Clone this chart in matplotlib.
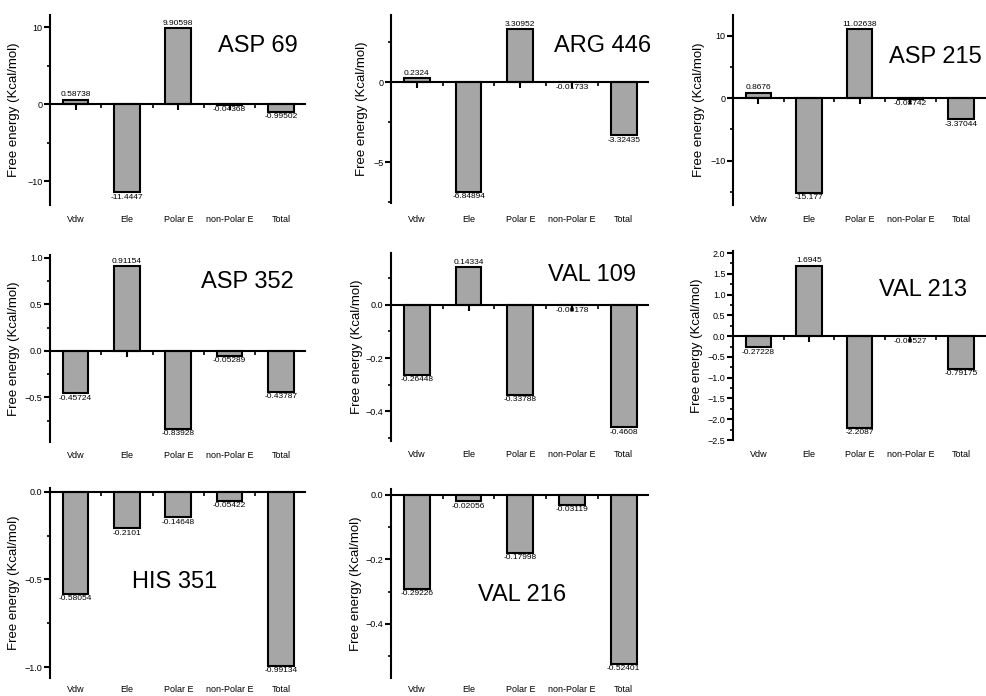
import matplotlib
matplotlib.use("Agg")
import matplotlib.pyplot as plt
from matplotlib.ticker import MultipleLocator
import numpy as np

plt.rcParams['font.family'] = ['Liberation Sans', 'DejaVu Sans']

categories = ["Vdw", "Ele", "Polar E", "non-Polar E", "Total"]

residues = ["ASP 69", "ARG 446", "ASP 215", "ASP 352", "VAL 109", "VAL 213", "HIS 351", "VAL 216"]

asp69 = [0.58738, -11.4447, 9.90598, -0.04368, -0.99502]
arg446 = [0.2324, -6.84894, 3.30952, -0.01733, -3.32435]
asp215 = [0.8676, -15.177, 11.02638, -0.08742, -3.37044]
asp352 = [-0.45724, 0.91154, -0.83928, -0.05289, -0.43787]
val109 = [-0.26448, 0.14334, -0.33788, -0.00178, -0.4608]
val213 = [-0.27228, 1.6945, -2.2087, -0.00527, -0.79175]
his351 = [-0.58054, -0.2101, -0.14648, -0.05422, -0.99134]
val216 = [-0.29226, -0.02056, -0.17998, -0.03119, -0.52401]

value_labels = [
    ["0.58738", "-11.4447", "9.90598", "-0.04368", "-0.99502"],
    ["0.2324", "-6.84894", "3.30952", "-0.01733", "-3.32435"],
    ["0.8676", "-15.177", "11.02638", "-0.08742", "-3.37044"],
    ["-0.45724", "0.91154", "-0.83928", "-0.05289", "-0.43787"],
    ["-0.26448", "0.14334", "-0.33788", "-0.00178", "-0.4608"],
    ["-0.27228", "1.6945", "-2.2087", "-0.00527", "-0.79175"],
    ["-0.58054", "-0.2101", "-0.14648", "-0.05422", "-0.99134"],
    ["-0.29226", "-0.02056", "-0.17998", "-0.03119", "-0.52401"],
]

series = [asp69, arg446, asp215, asp352, val109, val213, his351, val216]

# layout (pixel boxes: left, top, right, bottom)
W, H = 987, 696
boxes = [
    (50, 15, 305, 205), (391, 15, 648, 203), (733, 15, 985, 205),
    (50, 255, 305, 442), (391, 253, 648, 441), (733, 251, 985, 440),
    (50, 488, 305, 678), (391, 489, 648, 678),
]
ylims = [(-13.1, 11.6), (-7.56, 4.19), (-17.1, 13.3), (-0.98, 1.03),
         (-0.513, 0.196), (-2.5, 2.05), (-1.06, 0.02), (-0.568, 0.018)]
majors = [10, 5, 10, 0.5, 0.2, 0.5, 0.5, 0.2]
minors = [5, 2.5, 5, 0.25, 0.1, 0.25, 0.25, 0.1]
ylab_off = [30, 23, 28, 30, 28, 30, 30, 29]
cat_off = [7.5, 8.5, 7.5, 6.5, 6.5, 7, 5, 5]
title_pos = [(258, 46), (603, 46), (935, 57), (247, 282), (592, 275),
             (923, 290), (175, 582), (522, 595)]

fig = plt.figure(figsize=(W / 100, H / 100), dpi=100)
fig.patch.set_facecolor('white')

x = np.arange(len(categories))
for k, vals in enumerate(series):
    l, t, r, b = boxes[k]
    ax = fig.add_axes([l / W, 1 - b / H, (r - l) / W, (b - t) / H])
    ax.bar(x, vals, width=0.5, color='#a6a6a6', edgecolor='black', linewidth=1.5, zorder=2)
    ax.set_xlim(-0.5, 4.47)
    ax.set_ylim(*ylims[k])
    ax.spines['top'].set_visible(False)
    ax.spines['right'].set_visible(False)
    ax.spines['left'].set_linewidth(1.5)
    ax.spines['bottom'].set_linewidth(1.5)
    ax.spines['bottom'].set_position(('data', 0))
    ax.spines['bottom'].set_zorder(3)
    ax.set_xticks(x)
    ax.set_xticks(x[:-1] + 0.5, minor=True)
    ax.tick_params(axis='x', which='major', direction='out', length=4, width=1.5,
                   labelbottom=False)
    ax.tick_params(axis='x', which='minor', direction='out', length=3, width=1.2)
    ax.yaxis.set_major_locator(MultipleLocator(majors[k]))
    ax.yaxis.set_minor_locator(MultipleLocator(minors[k]))
    ax.tick_params(axis='y', which='major', direction='out', length=4, width=1.5,
                   labelsize=6.5, pad=1.5)
    ax.tick_params(axis='y', which='minor', direction='out', length=2.5, width=1.2)
    ax.set_ylabel("Free energy (Kcal/mol)", fontsize=9.5)
    ax.yaxis.set_label_coords(-ylab_off[k] / (r - l), 0.5)
    for i, lbl in enumerate(categories):
        ax.annotate(lbl, xy=(i, 0), xycoords=('data', 'axes fraction'),
                    xytext=(0, -cat_off[k]), textcoords='offset points',
                    ha='center', va='top', fontsize=6.5)
    for i, v in enumerate(vals):
        if v >= 0:
            ax.annotate(value_labels[k][i], xy=(i, v), xytext=(0, 1),
                        textcoords='offset points', ha='center', va='bottom', fontsize=6)
        else:
            ax.annotate(value_labels[k][i], xy=(i, v), xytext=(0, -1),
                        textcoords='offset points', ha='center', va='top', fontsize=6)
    tx, ty = title_pos[k]
    fig.text(tx / W, 1 - ty / H, residues[k], ha='center', va='center', fontsize=17)

fig.savefig("out.png", dpi=100)
